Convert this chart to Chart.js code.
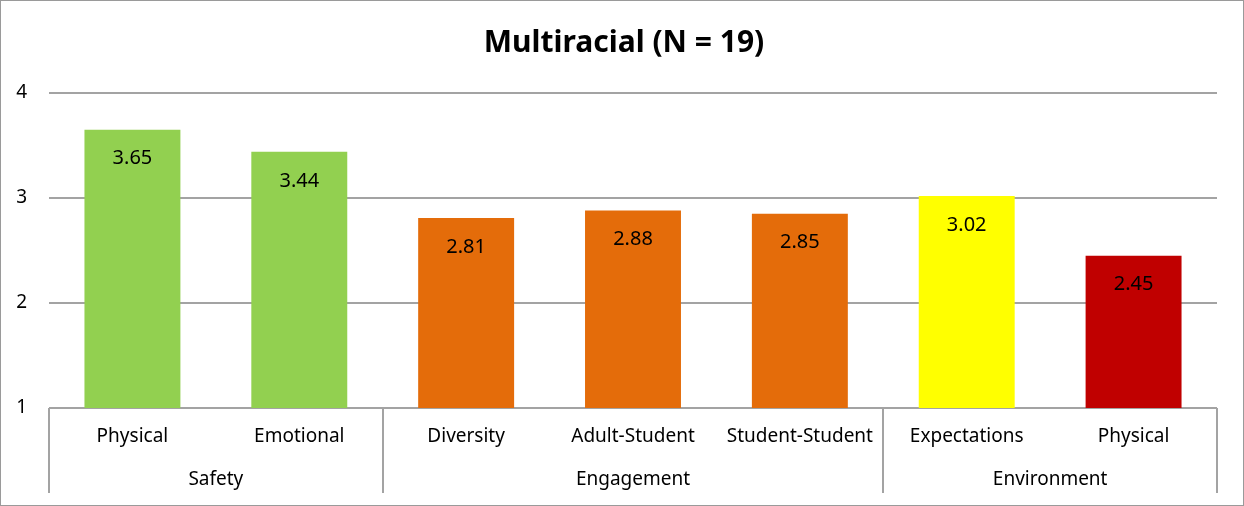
<!DOCTYPE html>
<html lang="en">

<head>
  <meta charset="UTF-8">
  <title>Multiracial (N = 19)</title>
  <style>
    html, body {
      margin: 0;
      padding: 0;
      background: #fff;
    }

    #wrap {
      width: 1244px;
      height: 506px;
    }
  </style>
</head>

<body>
  <div id="wrap">
    <canvas id="myChart" width="1244" height="506"></canvas>
  </div>

  <script src="https://cdn.jsdelivr.net/npm/chart.js"></script>

  <script>
    /* data */
    const groups = ['Safety', 'Engagement', 'Environment'];
    const categories = ['Physical', 'Emotional', 'Diversity', 'Adult-Student', 'Student-Student', 'Expectations', 'Physical'];
    const groupOf = [0, 0, 1, 1, 1, 2, 2];
    const scores = [3.65, 3.44, 2.81, 2.88, 2.85, 3.02, 2.45];
    const yTicks = [1, 2, 3, 4];

    /* styles */
    const barColors = ['#92D050', '#92D050', '#E46C0A', '#E46C0A', '#E46C0A', '#FFFF00', '#C00000'];
    const lineGray = '#a3a3a3';
    const font = "'Noto Sans', 'Open Sans', sans-serif";

    // two-level category axis, value labels and outer frame
    const decorations = {
      id: 'decorations',
      afterDraw(chart) {
        const ctx = chart.ctx;
        const x = chart.scales.x;
        const area = chart.chartArea;
        const half = (x.getPixelForValue(1) - x.getPixelForValue(0)) / 2;

        ctx.save();
        // value labels inside the bars
        ctx.fillStyle = '#000';
        ctx.font = '20px ' + font;
        ctx.textAlign = 'center';
        ctx.textBaseline = 'middle';
        chart.getDatasetMeta(0).data.forEach((bar, i) => {
          ctx.fillText(scores[i].toFixed(2), bar.x, bar.y + 29);
        });

        // category labels
        ctx.font = '19px ' + font;
        categories.forEach((c, i) => {
          ctx.fillText(c, x.getPixelForValue(i), 437);
        });

        // group labels + separators
        ctx.strokeStyle = lineGray;
        ctx.lineWidth = 2;
        const bounds = [];
        groups.forEach((g, gi) => {
          const idx = groupOf.map((v, i) => v === gi ? i : -1).filter(i => i >= 0);
          const first = x.getPixelForValue(idx[0]);
          const last = x.getPixelForValue(idx[idx.length - 1]);
          ctx.fillText(g, (first + last) / 2, 480);
          bounds.push(first - half);
          if (gi === groups.length - 1) bounds.push(last + half);
        });
        bounds.forEach(b => {
          ctx.beginPath();
          ctx.moveTo(Math.round(b), area.bottom);
          ctx.lineTo(Math.round(b), 493);
          ctx.stroke();
        });

        // chart frame
        ctx.lineWidth = 1;
        ctx.strokeStyle = '#9a9a9a';
        ctx.strokeRect(0.5, 0.5, chart.width - 1, chart.height - 1);
        ctx.restore();
      }
    };

    const ctx = document.getElementById('myChart');
    new Chart(ctx, {
      type: 'bar',
      data: {
        labels: categories,
        datasets: [{
          data: scores,
          backgroundColor: barColors,
          borderWidth: 0,
          categoryPercentage: 1,
          barPercentage: 0.575
        }]
      },
      options: {
        responsive: false,
        animation: false,
        layout: {
          padding: { left: 14, right: 10, top: 0, bottom: 0 }
        },
        plugins: {
          legend: { display: false },
          tooltip: { enabled: false },
          title: {
            display: true,
            text: 'Multiracial (N = 19)',
            color: '#000',
            font: { family: font, size: 30, weight: 'bold', lineHeight: 1.2 },
            padding: { top: 25, bottom: 32 }
          }
        },
        scales: {
          x: {
            ticks: { display: false },
            grid: { display: false },
            border: { display: false },
            afterFit(scale) { scale.height = 98; }
          },
          y: {
            min: 1,
            max: 4,
            afterBuildTicks(scale) { scale.ticks = yTicks.map(v => ({ value: v })); },
            ticks: {
              color: '#000',
              padding: 22,
              font: { family: font, size: 19 }
            },
            grid: { color: lineGray, lineWidth: 2, drawTicks: false },
            border: { display: false },
            afterFit(scale) { scale.width = 35; }
          },
          // empty right-hand spacer so the plot ends where the reference does
          yRight: {
            position: 'right',
            min: 1,
            max: 4,
            ticks: { display: false },
            grid: { display: false },
            border: { display: false },
            afterFit(scale) { scale.width = 17; }
          }
        }
      },
      plugins: [decorations]
    });
  </script>
</body>

</html>
